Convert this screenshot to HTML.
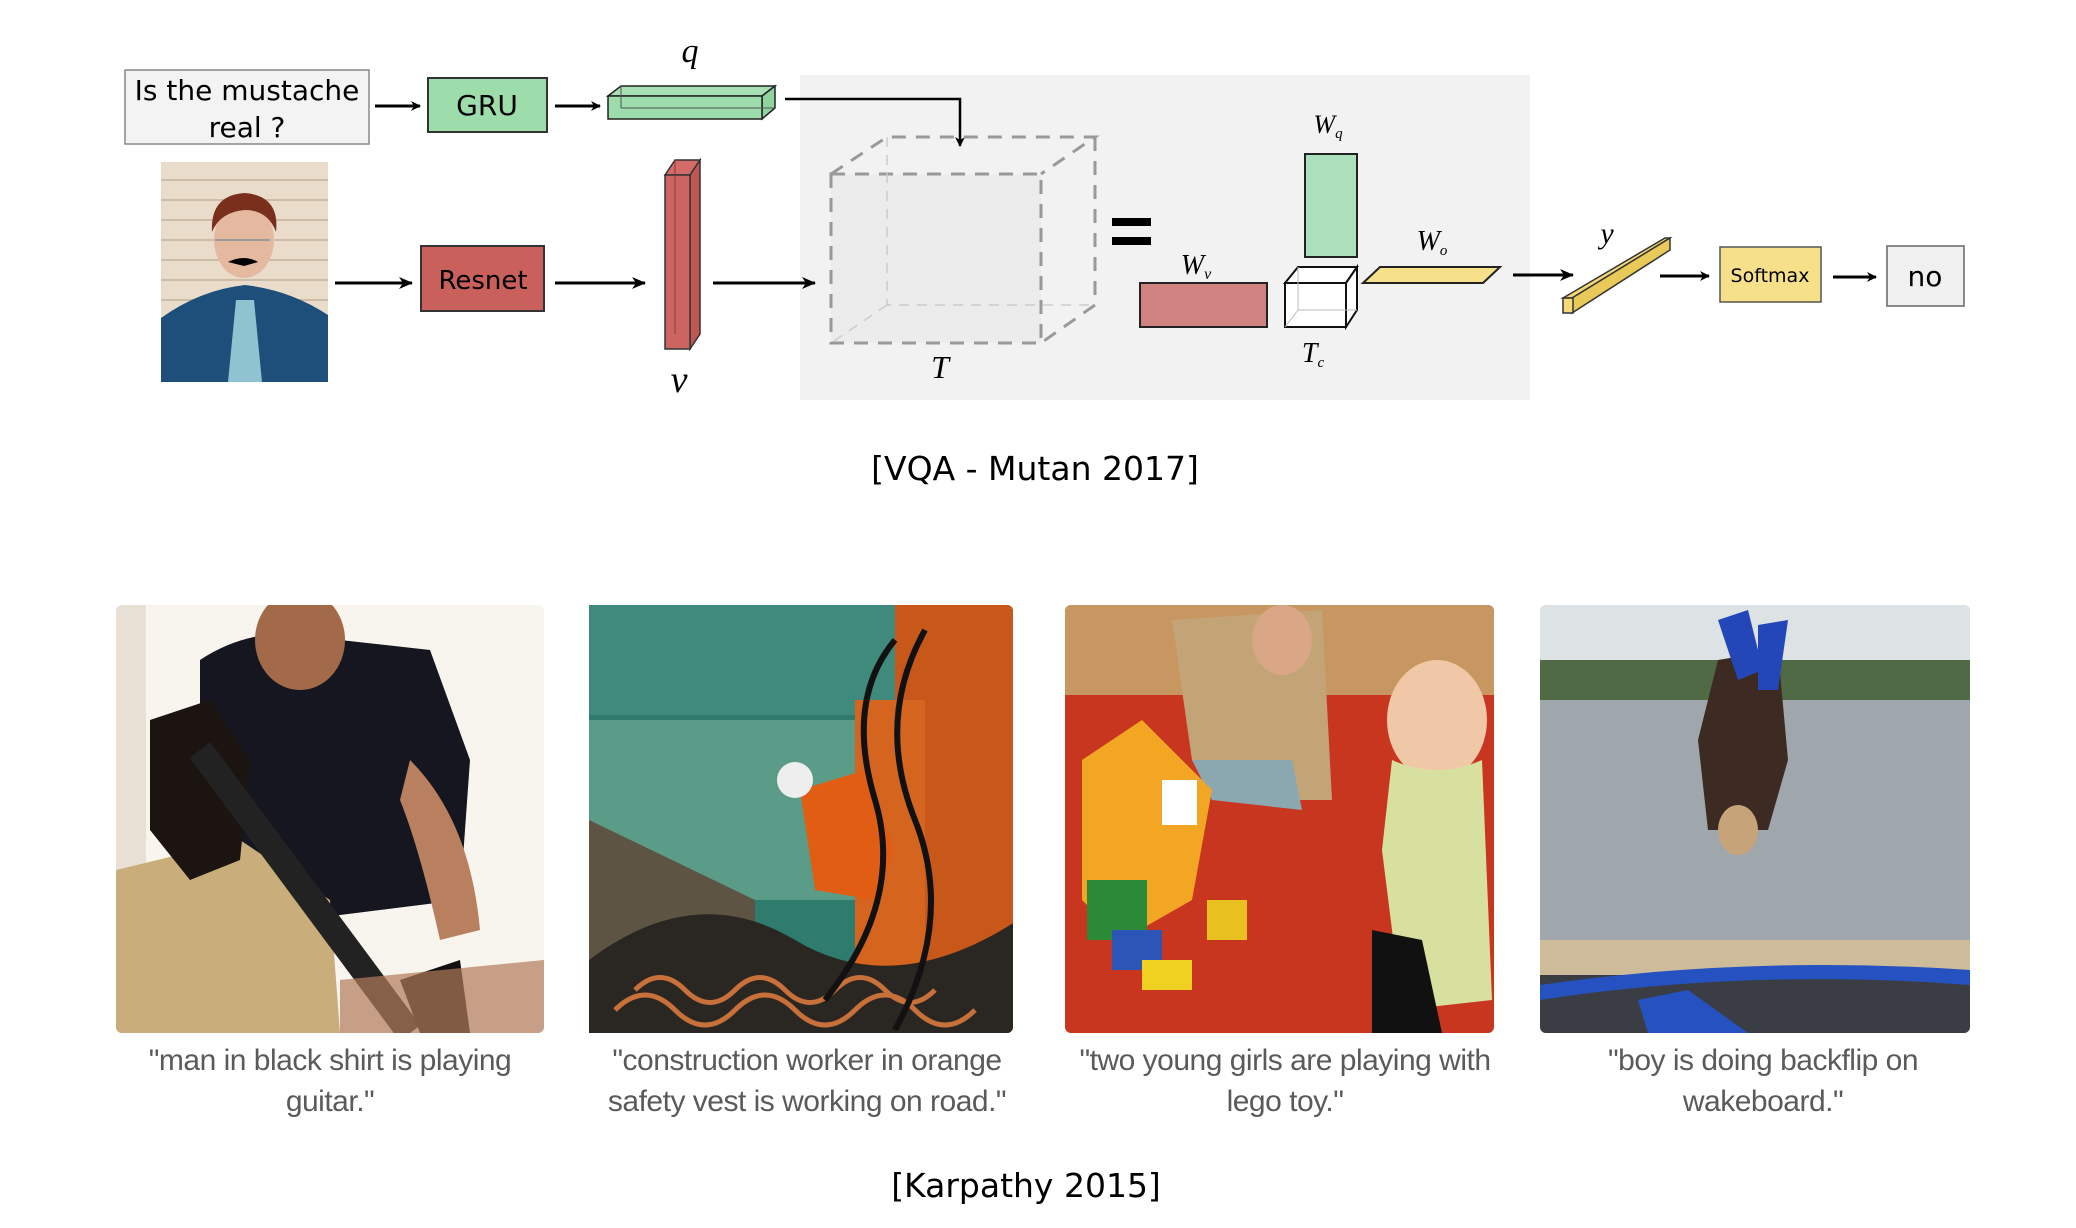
<!DOCTYPE html>
<html><head><meta charset="utf-8">
<style>
html,body{margin:0;padding:0;background:#fff;}
body{width:2076px;height:1228px;overflow:hidden;position:relative;}
svg{position:absolute;left:0;top:0;}
.cap{position:absolute;width:500px;text-align:center;font-family:"Liberation Sans",sans-serif;font-size:30px;line-height:41px;color:#5a5a5a;letter-spacing:-0.5px;}
</style></head><body>
<svg width="2076" height="1228" viewBox="0 0 2076 1228" xmlns="http://www.w3.org/2000/svg">
<defs>
<marker id="ah" markerWidth="10" markerHeight="10" refX="9" refY="5" orient="auto" markerUnits="userSpaceOnUse"><path d="M0,0 L10,5 L0,10 L3,5 Z" fill="#000"/></marker>
<marker id="ah2" markerWidth="14" markerHeight="12" refX="13" refY="6" orient="auto" markerUnits="userSpaceOnUse"><path d="M0,0 L14,6 L0,12 L4,6 Z" fill="#000"/></marker>
<clipPath id="c1"><rect x="116" y="605" width="428" height="428" rx="6"/></clipPath>
<clipPath id="c2"><rect x="589" y="605" width="429" height="428" rx="6"/></clipPath>
<clipPath id="c3"><rect x="1065" y="605" width="429" height="428" rx="6"/></clipPath>
<clipPath id="c4"><rect x="1540" y="605" width="430" height="428" rx="6"/></clipPath>
</defs>
<!-- gray panel -->
<rect x="800" y="75" width="730" height="325" fill="#f2f2f2"/>
<!-- question box -->
<rect x="125" y="70" width="244" height="74" fill="#f3f3f3" stroke="#888" stroke-width="1.5"/>
<text x="247" y="100" font-family="DejaVu Sans,sans-serif" font-size="28" text-anchor="middle">Is the mustache</text>
<text x="247" y="137" font-family="DejaVu Sans,sans-serif" font-size="28" text-anchor="middle">real ?</text>
<line x1="375" y1="106" x2="420" y2="106" stroke="#000" stroke-width="3" marker-end="url(#ah)"/>
<rect x="428" y="78" width="119" height="54" fill="#9ddcab" stroke="#333" stroke-width="2"/>
<text x="487" y="115" font-family="DejaVu Sans,sans-serif" font-size="28" text-anchor="middle">GRU</text>
<line x1="555" y1="106" x2="600" y2="106" stroke="#000" stroke-width="3" marker-end="url(#ah)"/>
<!-- q prism -->
<polygon points="608,96 621,86 775,86 762,96" fill="#a6e0b4" stroke="#222" stroke-width="1.5"/>
<polygon points="762,96 775,86 775,108 762,119" fill="#8fd3a0" stroke="#222" stroke-width="1.5"/>
<rect x="608" y="96" width="154" height="23" fill="#9ddcab" stroke="#222" stroke-width="1.5"/>
<line x1="621" y1="86" x2="621" y2="108" stroke="#555" stroke-width="1"/><line x1="621" y1="108" x2="775" y2="108" stroke="#555" stroke-width="1"/>
<text x="690" y="62" font-family="Liberation Serif,serif" font-style="italic" font-size="34" text-anchor="middle">q</text>
<polyline points="785,99 960,99 960,146" fill="none" stroke="#000" stroke-width="2.5" marker-end="url(#ah)"/>
<!-- photo -->
<rect x="161" y="162" width="167" height="220" fill="#e9dccb"/>
<g stroke="#cdbda7" stroke-width="2"><line x1="161" y1="180" x2="328" y2="180"/><line x1="161" y1="200" x2="328" y2="200"/><line x1="161" y1="220" x2="328" y2="220"/><line x1="161" y1="240" x2="328" y2="240"/><line x1="161" y1="260" x2="328" y2="260"/><line x1="161" y1="280" x2="328" y2="280"/><line x1="161" y1="300" x2="328" y2="300"/></g>
<path d="M161,318 Q200,290 245,285 Q290,290 328,315 L328,382 L161,382 Z" fill="#1d4f7a"/>
<polygon points="236,300 254,300 262,382 228,382" fill="#8fc3d0"/>
<ellipse cx="244" cy="240" rx="30" ry="38" fill="#e4b9a0"/>
<path d="M212,232 Q210,195 245,193 Q280,196 276,232 Q268,210 245,210 Q220,212 212,232Z" fill="#7a2e1c"/>
<path d="M228,262 Q244,254 258,262 L244,266Z" fill="#000"/>
<line x1="215" y1="240" x2="270" y2="240" stroke="#999" stroke-width="2"/>
<line x1="335" y1="283" x2="412" y2="283" stroke="#000" stroke-width="3" marker-end="url(#ah2)"/>
<rect x="421" y="246" width="123" height="65" fill="#c9605c" stroke="#333" stroke-width="2"/>
<text x="483" y="289" font-family="DejaVu Sans,sans-serif" font-size="26" text-anchor="middle">Resnet</text>
<line x1="555" y1="283" x2="645" y2="283" stroke="#000" stroke-width="3" marker-end="url(#ah2)"/>
<!-- v prism -->
<polygon points="665,175 675,160 700,160 690,175" fill="#d36b68" stroke="#333" stroke-width="1.5"/>
<polygon points="690,175 700,160 700,334 690,349" fill="#c05754" stroke="#333" stroke-width="1.5"/>
<rect x="665" y="175" width="25" height="174" fill="#cc6562" stroke="#333" stroke-width="1.5"/>
<line x1="675" y1="160" x2="675" y2="334" stroke="#8a3a38" stroke-width="1"/>
<text x="679" y="392" font-family="Liberation Serif,serif" font-style="italic" font-size="38" text-anchor="middle">v</text>
<line x1="713" y1="283" x2="815" y2="283" stroke="#000" stroke-width="3" marker-end="url(#ah2)"/>
<!-- dashed cube -->
<rect x="831" y="174" width="210" height="169" fill="#eaeaea" opacity="0.7"/>
<g fill="none" stroke="#999" stroke-width="3" stroke-dasharray="14,10">
<rect x="831" y="174" width="210" height="169"/>
<polyline points="831,174 887,137 1095,137 1041,174"/>
<polyline points="1095,137 1095,305 1041,343"/>
</g>
<g fill="none" stroke="#ccc" stroke-width="1.5" stroke-dasharray="10,8">
<polyline points="887,137 887,305 1095,305"/><line x1="887" y1="305" x2="831" y2="343"/>
</g>
<text x="940" y="378" font-family="Liberation Serif,serif" font-style="italic" font-size="32" text-anchor="middle">T</text>
<rect x="1112" y="218" width="39" height="8" fill="#000"/><rect x="1112" y="237" width="39" height="8" fill="#000"/>
<!-- Wv -->
<rect x="1140" y="283" width="127" height="44" fill="#d08281" stroke="#222" stroke-width="2"/>
<text x="1196" y="274" font-family="Liberation Serif,serif" font-style="italic" font-size="28" text-anchor="middle">W<tspan font-size="16" dy="5">v</tspan></text>
<!-- Wq -->
<rect x="1305" y="154" width="52" height="103" fill="#acdfbb" stroke="#222" stroke-width="2"/>
<text x="1328" y="133" font-family="Liberation Serif,serif" font-style="italic" font-size="26" text-anchor="middle">W<tspan font-size="15" dy="5">q</tspan></text>
<!-- Tc cube -->
<polygon points="1285,283 1298,267 1357,267 1346,283" fill="#fff" stroke="#111" stroke-width="2"/>
<polygon points="1346,283 1357,267 1357,310 1346,327" fill="#fff" stroke="#111" stroke-width="2"/>
<rect x="1285" y="283" width="61" height="44" fill="#fff" stroke="#111" stroke-width="2"/>
<polyline points="1298,267 1298,310 1357,310" fill="none" stroke="#bbb" stroke-width="1"/><line x1="1298" y1="310" x2="1285" y2="327" stroke="#bbb"/>
<text x="1313" y="362" font-family="Liberation Serif,serif" font-style="italic" font-size="28" text-anchor="middle">T<tspan font-size="15" dy="5">c</tspan></text>
<!-- Wo -->
<polygon points="1363,283 1380,267 1500,267 1483,283" fill="#f7e08a" stroke="#222" stroke-width="2"/>
<text x="1432" y="250" font-family="Liberation Serif,serif" font-style="italic" font-size="28" text-anchor="middle">W<tspan font-size="15" dy="5">o</tspan></text>
<line x1="1513" y1="275" x2="1573" y2="275" stroke="#000" stroke-width="3" marker-end="url(#ah2)"/>
<!-- y prism -->
<polygon points="1563,298 1665,238 1670,238 1572,298" fill="#f5d978" stroke="#333" stroke-width="1.5"/>
<polygon points="1572,298 1670,238 1670,250 1572,313" fill="#e9c95a" stroke="#333" stroke-width="1.5"/>
<rect x="1563" y="298" width="10" height="15" fill="#f5d978" stroke="#333" stroke-width="1.5"/>
<text x="1607" y="243" font-family="Liberation Serif,serif" font-style="italic" font-size="30" text-anchor="middle">y</text>
<line x1="1660" y1="276" x2="1709" y2="276" stroke="#000" stroke-width="3" marker-end="url(#ah)"/>
<rect x="1720" y="247" width="101" height="55" fill="#f7e08a" stroke="#555" stroke-width="1.5"/>
<text x="1770" y="282" font-family="DejaVu Sans,sans-serif" font-size="19" text-anchor="middle">Softmax</text>
<line x1="1833" y1="277" x2="1876" y2="277" stroke="#000" stroke-width="3" marker-end="url(#ah)"/>
<rect x="1887" y="246" width="77" height="60" fill="#f0f0f0" stroke="#666" stroke-width="1.5"/>
<text x="1925" y="286" font-family="DejaVu Sans,sans-serif" font-size="28" text-anchor="middle">no</text>
<text x="1035" y="480" font-family="DejaVu Sans,sans-serif" font-size="33" text-anchor="middle">[VQA - Mutan 2017]</text>

<!-- image 1 -->
<g clip-path="url(#c1)">
<rect x="116" y="605" width="428" height="428" fill="#f7f5ee"/>
<rect x="116" y="605" width="30" height="428" fill="#e8e0d5"/>
<path d="M200,660 Q260,620 340,640 L430,650 L470,760 L460,900 L300,920 L200,860 Z" fill="#15161f"/>
<ellipse cx="300" cy="640" rx="45" ry="50" fill="#a36a4a"/>
<path d="M116,870 L240,840 L330,900 L340,1033 L116,1033Z" fill="#c9ad7a"/>
<path d="M150,720 L210,700 L250,760 L240,860 L190,880 L150,830Z" fill="#1b1410"/>
<line x1="200" y1="750" x2="410" y2="1033" stroke="#222" stroke-width="26"/>
<path d="M400,980 L460,960 L470,1033 L420,1033Z" fill="#111"/>
<path d="M410,760 Q470,820 480,930 L440,940 Q420,850 400,800Z" fill="#b98060"/>
<path d="M340,980 L544,960 L544,1033 L340,1033Z" fill="#b07a5a" opacity="0.7"/>
</g>
<!-- image 2 -->
<g clip-path="url(#c2)" transform="translate(-5,0)">
<rect x="594" y="605" width="429" height="428" fill="#2f7b6e"/>
<rect x="594" y="605" width="429" height="110" fill="#3f8a7c"/>
<rect x="594" y="720" width="300" height="180" fill="#5a9c88"/>
<polygon points="594,820 760,900 760,1033 594,1033" fill="#5d5444"/>
<rect x="900" y="605" width="123" height="428" fill="#c8571a"/>
<rect x="860" y="700" width="70" height="333" fill="#d4641e"/>
<polygon points="805,790 870,770 900,850 880,900 820,890" fill="#e25d14"/>
<circle cx="800" cy="780" r="18" fill="#eee"/>
<path d="M594,960 Q700,880 800,940 T1023,920 L1023,1033 L594,1033Z" fill="#2a2622"/>
<g stroke="#c8703a" stroke-width="5" fill="none"><path d="M620,1010 q30,-30 60,0 t60,0 t60,0 t60,0 t60,0 t60,0"/><path d="M640,990 q25,-25 50,0 t50,0 t50,0 t50,0 t50,0 t50,0"/></g>
<g stroke="#111" stroke-width="6" fill="none"><path d="M900,640 Q850,700 880,800 T830,1000"/><path d="M930,630 Q880,720 920,820 T900,1030"/></g>
</g>
<!-- image 3 -->
<g transform="translate(-8,0)"><g clip-path="url(#c3)" transform="translate(0,0)">
</g></g>
<g clip-path="url(#c3)"><g transform="translate(-8,0)">
<rect x="1073" y="605" width="429" height="428" fill="#c83620"/>
<rect x="1073" y="605" width="429" height="90" fill="#c89660"/>
<path d="M1180,620 L1330,610 L1340,800 L1250,800 L1200,760Z" fill="#c2a477"/>
<ellipse cx="1290" cy="640" rx="30" ry="35" fill="#d9a785"/>
<path d="M1200,760 L1300,760 L1310,810 L1220,800Z" fill="#8ba8b0"/>
<ellipse cx="1445" cy="720" rx="50" ry="60" fill="#f0c8a8"/>
<path d="M1400,760 Q1445,780 1490,760 L1500,1000 L1410,1010 L1390,850Z" fill="#d8e0a0"/>
<path d="M1380,930 L1430,940 L1450,1033 L1380,1033Z" fill="#111"/>
<polygon points="1090,760 1150,720 1220,790 1200,900 1130,940 1090,900" fill="#f3a524"/>
<rect x="1095" y="880" width="60" height="60" fill="#2a8a35"/>
<rect x="1120" y="930" width="50" height="40" fill="#2c55b8"/>
<rect x="1150" y="960" width="50" height="30" fill="#f0d020"/>
<rect x="1170" y="780" width="35" height="45" fill="#fff"/>
<rect x="1215" y="900" width="40" height="40" fill="#e8c020"/>
</g></g>
<!-- image 4 -->
<g clip-path="url(#c4)"><g transform="translate(-12,0)">
<rect x="1552" y="605" width="430" height="428" fill="#b9bfc3"/>
<rect x="1552" y="605" width="430" height="60" fill="#dde2e4"/>
<rect x="1552" y="660" width="430" height="40" fill="#4f6a45"/>
<rect x="1552" y="700" width="430" height="250" fill="#9fa7ad"/>
<rect x="1552" y="940" width="430" height="40" fill="#cdbb9a"/>
<rect x="1552" y="975" width="430" height="58" fill="#3a3e44"/>
<path d="M1552,985 Q1760,955 1982,970 L1982,985 Q1760,968 1552,1000Z" fill="#2552c0"/>
<path d="M1650,1000 L1700,990 L1760,1033 L1660,1033Z" fill="#2552c0"/>
<path d="M1730,660 L1790,650 L1800,760 L1780,830 L1720,830 L1710,740Z" fill="#3d2a22"/>
<path d="M1730,620 L1760,610 L1775,670 L1750,680Z" fill="#2346b8"/>
<path d="M1770,625 L1800,620 L1790,690 L1770,690Z" fill="#2346b8"/>
<ellipse cx="1750" cy="830" rx="20" ry="25" fill="#c7a37a"/>
</g></g>
<text x="1026" y="1197" font-family="DejaVu Sans,sans-serif" font-size="33" text-anchor="middle">[Karpathy 2015]</text>
</svg>
<div class="cap" style="left:80px;top:1040px;">"man in black shirt is playing<br>guitar."</div>
<div class="cap" style="left:557px;top:1040px;">"construction worker in orange<br>safety vest is working on road."</div>
<div class="cap" style="left:1035px;top:1040px;">"two young girls are playing with<br>lego toy."</div>
<div class="cap" style="left:1513px;top:1040px;">"boy is doing backflip on<br>wakeboard."</div>
</body></html>
